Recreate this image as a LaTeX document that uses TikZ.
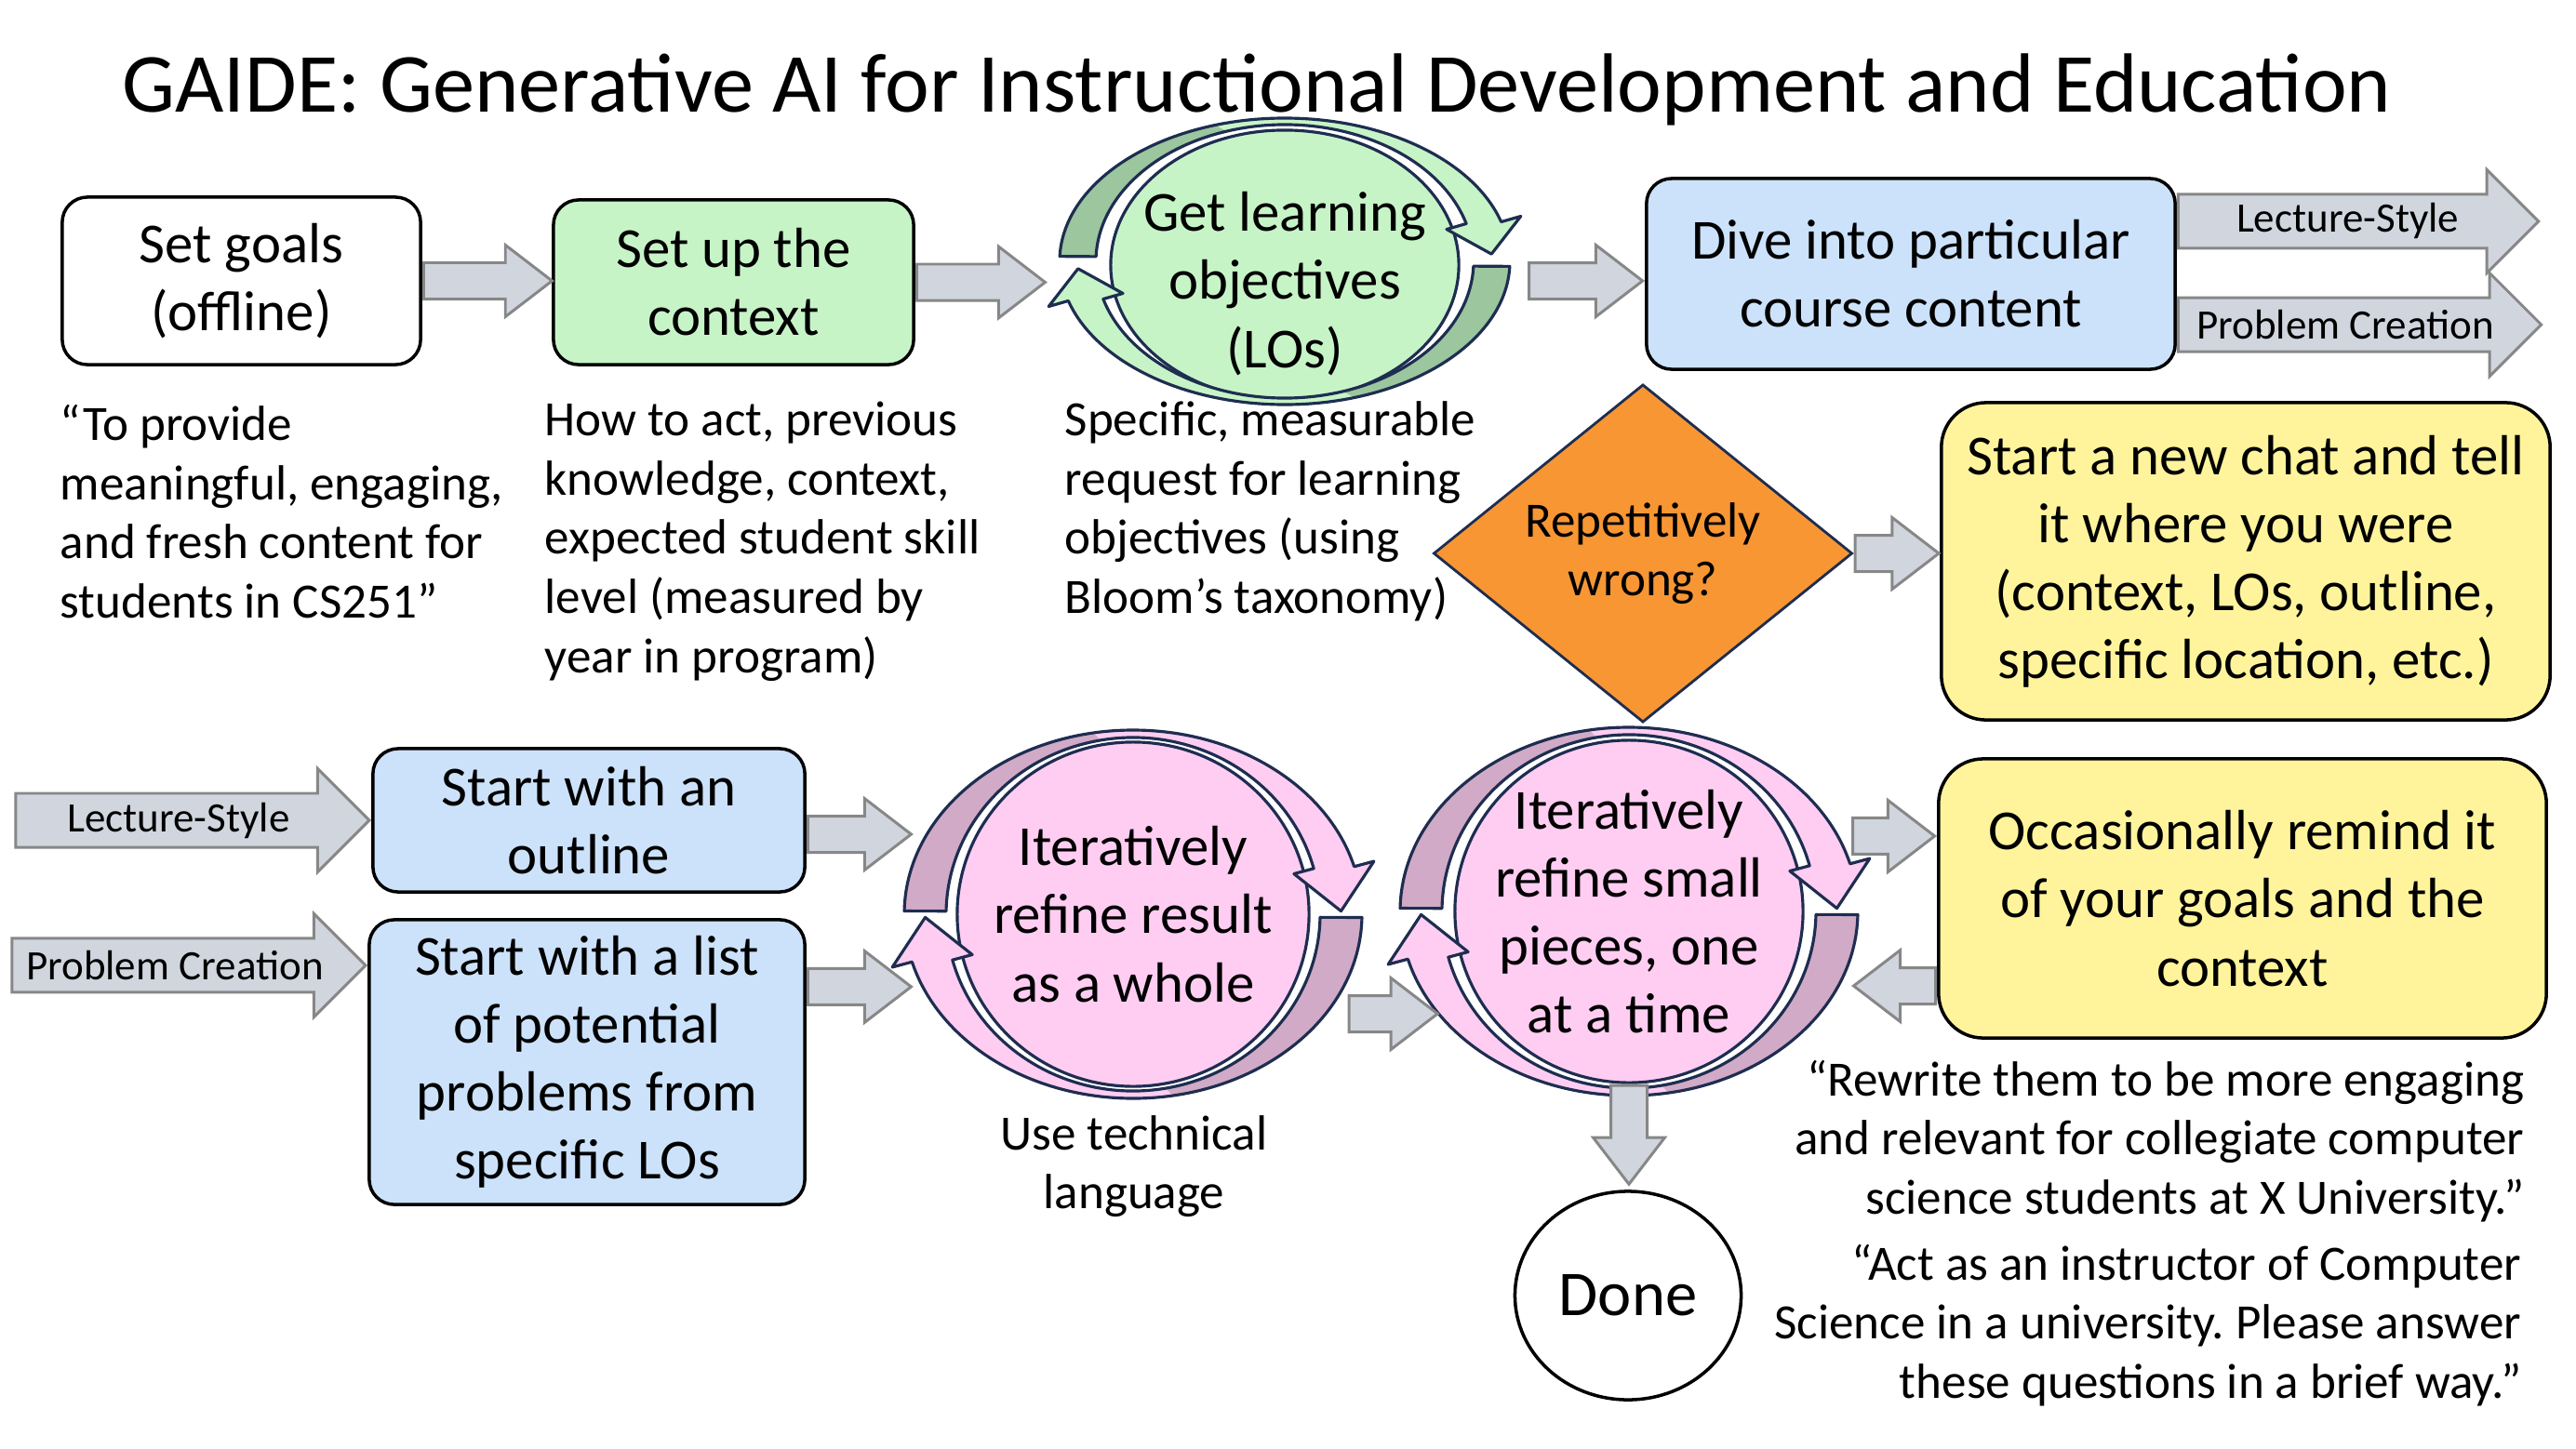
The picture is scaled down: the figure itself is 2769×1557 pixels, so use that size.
\documentclass[tikz,border=0pt]{standalone}
\usepackage{fontspec}
\setmainfont{Carlito}
\usetikzlibrary{shapes.geometric,shapes.arrows,calc}
\frenchspacing

\definecolor{arrowgray}{RGB}{208,213,222}
\definecolor{arrowline}{RGB}{135,135,135}
\definecolor{goalgreen}{RGB}{199,244,199}
\definecolor{shadegreen}{RGB}{155,198,158}
\definecolor{stepblue}{RGB}{204,226,250}
\definecolor{notepink}{RGB}{255,205,242}
\definecolor{shadepink}{RGB}{208,170,198}
\definecolor{chatyellow}{RGB}{255,244,156}
\definecolor{askorange}{RGB}{248,150,52}
\definecolor{ringnavy}{RGB}{30,45,80}

\newcommand{\titlesize}{\fontsize{25.7}{30}\selectfont}
\newcommand{\boxsize}{\fontsize{17.3}{20.8}\selectfont}
\newcommand{\notesize}{\fontsize{15.1}{18.1}\selectfont}
\newcommand{\tagsize}{\fontsize{12.8}{15}\selectfont}
\newcommand{\donesize}{\fontsize{19.5}{23}\selectfont}

% ring radii: outer rx, outer ry, inner rx, inner ry
\newcommand{\setring}[4]{%
  \def\rxo{#1}\def\ryo{#2}\def\rxi{#3}\def\ryi{#4}%
  \pgfmathsetmacro\rxoh{#1+22}\pgfmathsetmacro\ryoh{#2+22}%
  \pgfmathsetmacro\rxih{#3-22}\pgfmathsetmacro\ryih{#4-22}%
  \pgfmathsetmacro\rxm{(#1+#3)/2}\pgfmathsetmacro\rym{(#2+#4)/2}}
\newcommand{\ringpath}[3]{({\rxo*cos(#1)},{\ryo*sin(#1)})
  arc[start angle=#1, end angle=#2, x radius=\rxo, y radius=\ryo]
  -- ({\rxoh*cos(#2)},{\ryoh*sin(#2)}) -- ({\rxm*cos(#3)},{\rym*sin(#3)})
  -- ({\rxih*cos(#2)},{\ryih*sin(#2)}) -- ({\rxi*cos(#2)},{\ryi*sin(#2)})
  arc[start angle=#2, end angle=#1, x radius=\rxi, y radius=\ryi] -- cycle}
% start, head, tip, end of the shaded part
\newcommand{\ringarrow}[4]{%
  \fill[ringfill] \ringpath{#1}{#2}{#3};
  \fill[ringshade] ({\rxo*cos(#1)},{\ryo*sin(#1)})
    arc[start angle=#1, end angle=#4, x radius=\rxo, y radius=\ryo]
    -- ({\rxi*cos(#4)},{\ryi*sin(#4)})
    arc[start angle=#4, end angle=#1, x radius=\rxi, y radius=\ryi] -- cycle;
  \draw[ringline] \ringpath{#1}{#2}{#3};}

\tikzset{
  stepbox/.style={draw=black, line width=1pt, rounded corners=0.27cm,
    align=center, font=\boxsize, inner sep=0pt},
  chatbox/.style={stepbox, rounded corners=0.48cm, fill=chatyellow},
  loopnode/.style={ellipse, draw=ringnavy, line width=0.9pt, inner sep=0pt,
    label={[font=\boxsize, align=center]center:#1}},
  note/.style={align=left, font=\notesize, inner sep=0pt},
  tag/.style={font=\tagsize, inner sep=0pt},
  ringline/.style={draw=ringnavy, line width=0.9pt, line join=round},
  garrow/.style={single arrow, draw=arrowline, fill=arrowgray, line width=0.85pt,
    inner xsep=0pt, inner ysep=0.18cm, single arrow head extend=0.19cm,
    single arrow tip angle=75, minimum height=#1, anchor=tail},
  garrow/.default=1.38cm,
  bigarrow/.style={garrow=#1, inner ysep=0.275cm, single arrow head extend=0.265cm,
    single arrow tip angle=90},
}

\begin{document}
\begin{tikzpicture}[x=0.01cm, y=0.01cm]
  \useasboundingbox (0,0) rectangle (2769,-1557);

  \node[font=\titlesize, anchor=base] (title) at (1351,-120)
    {GAIDE: Generative AI for Instructional Development and Education};

  % first row
  \node[stepbox, fill=white, minimum width=3.85cm, minimum height=1.80cm]
    (goals) at (259.5,-302) {Set goals\\(offline)};
  \node[stepbox, fill=goalgreen, minimum width=3.87cm, minimum height=1.77cm]
    (context) at (788.5,-303.5) {Set up the\\context};
  \node[ellipse, draw=ringnavy, line width=0.9pt, inner sep=0pt, fill=goalgreen,
    minimum width=3.74cm, minimum height=2.90cm,
    label={[font=\boxsize, align=center, yshift=-0.2cm]center:Get learning\\objectives\\(LOs)}]
    (lo) at (1381,-285) {};
  \node[stepbox, fill=stepblue, minimum width=5.68cm, minimum height=2.05cm]
    (course) at (2054,-294.5) {Dive into particular\\course content};

  \node[note, anchor=west] (goalnote) at (64,-550)
    {“To provide\\meaningful, engaging,\\and fresh content for\\students in CS251”};
  \node[note, anchor=west] (contextnote) at (585,-582)
    {How to act, previous\\knowledge, context,\\expected student skill\\level (measured by\\year in program)};
  \node[note, anchor=west] (lonote) at (1144,-550)
    {Specific, measurable\\request for learning\\objectives (using\\Bloom’s taxonomy)};

  \node[diamond, draw=ringnavy, fill=askorange, line width=0.8pt, inner sep=0pt,
    minimum width=4.5cm, minimum height=3.52cm, align=center, font=\notesize]
    (wrong) at (1766,-595) {Repetitively\\wrong?};
  \node[chatbox, minimum width=6.54cm, minimum height=3.41cm] (newchat) at (2414,-603.5)
    {Start a new chat and tell\\it where you were\\(context, LOs, outline,\\specific location, etc.)};

  % second row
  \node[stepbox, fill=stepblue, minimum width=4.64cm, minimum height=1.54cm]
    (outline) at (633,-882) {Start with an\\outline};
  \node[stepbox, fill=stepblue, minimum width=4.68cm, minimum height=3.06cm]
    (list) at (631,-1142) {Start with a list\\of potential\\problems from\\specific LOs};
  \node[loopnode={Iteratively\\refine result\\as a whole}, fill=notepink,
    minimum width=3.78cm, minimum height=3.70cm] (whole) at (1218,-983) {};
  \node[loopnode={Iteratively\\refine small\\pieces, one\\at a time}, fill=notepink,
    minimum width=3.74cm, minimum height=3.68cm] (pieces) at (1751,-980) {};
  \node[chatbox, minimum width=6.53cm, minimum height=3.00cm] (remind) at (2410.5,-966)
    {Occasionally remind it\\of your goals and the\\context};
  \node[ellipse, draw, line width=1pt, fill=white, minimum width=2.30cm,
    minimum height=2.24cm, font=\donesize] (done) at (1750,-1393) {Done};

  \node[note, align=center] (technote) at (1219,-1254) {Use technical\\language};
  \node[note, align=right, anchor=east] (rewritenote) at (2714,-1227)
    {“Rewrite them to be more engaging\\and relevant for collegiate computer\\science students at X University.”};
  \node[note, align=right, anchor=east] (actnote) at (2711,-1425)
    {“Act as an instructor of Computer\\Science in a university. Please answer\\these questions in a brief way.”};

  % loop arrows round the ellipses
  \begin{scope}[shift={([yshift=0.04cm]lo.center)}, ringfill/.style={fill=goalgreen},
      ringshade/.style={fill=shadegreen}]
    \setring{242}{154}{203}{147}
    \ringarrow{178}{16}{3}{108}
    \ringarrow{-2}{-164}{-177}{-72}
  \end{scope}
  \foreach \c in {whole,pieces} {
    \begin{scope}[shift={(\c.center)}, ringfill/.style={fill=notepink},
        ringshade/.style={fill=shadepink}]
      \setring{246}{198}{201}{190}
      \ringarrow{179}{15}{1}{100}
      \ringarrow{-1}{-165}{-179}{-80}
    \end{scope}
  }

  % block arrows
  \node[garrow] (a1) at (goals.east) {};
  \node[garrow] (a2) at (context.east) {};
  \node[garrow=1.22cm, anchor=tip] (a3) at ([yshift=-0.075cm]course.west) {};
  \node[garrow=0.90cm] (a4) at (wrong.east) {};
  \node[garrow=1.11cm] (a5) at ([yshift=-0.15cm]outline.east) {};
  \node[garrow=1.11cm] (a6) at ([yshift=0.81cm]list.east) {};
  \node[garrow=0.95cm] (a7) at ($(whole.east)+(40,-107)$) {};
  \node[garrow=0.88cm, anchor=tip] (a8) at ([yshift=0.67cm]remind.west) {};
  \node[garrow=0.88cm, rotate=180] (a9) at ([yshift=-0.94cm]remind.west) {};
  \node[garrow=1.06cm, rotate=-90] (a10) at (pieces.south) {};

  \node[bigarrow=3.87cm] (lectureA) at ([yshift=0.565cm]course.east) {};
  \node[bigarrow=3.90cm] (problemA) at ([yshift=-0.545cm]course.east) {};
  \node[bigarrow=3.80cm, anchor=tip] (lectureB) at (outline.west) {};
  \node[bigarrow=3.80cm, anchor=tip] (problemB) at ([yshift=1.04cm]list.west) {};
  \node[tag] (lectureAtxt) at ($(lectureA.tail)!0.47!(lectureA.tip)$) {Lecture-Style};
  \node[tag] (problemAtxt) at ($(problemA.tail)!0.46!(problemA.tip)$) {Problem Creation};
  \node[tag] (lectureBtxt) at ($(lectureB.tail)!0.46!(lectureB.tip)$) {Lecture-Style};
  \node[tag] (problemBtxt) at ($(problemB.tail)!0.46!(problemB.tip)$) {Problem Creation};
\end{tikzpicture}
\end{document}
